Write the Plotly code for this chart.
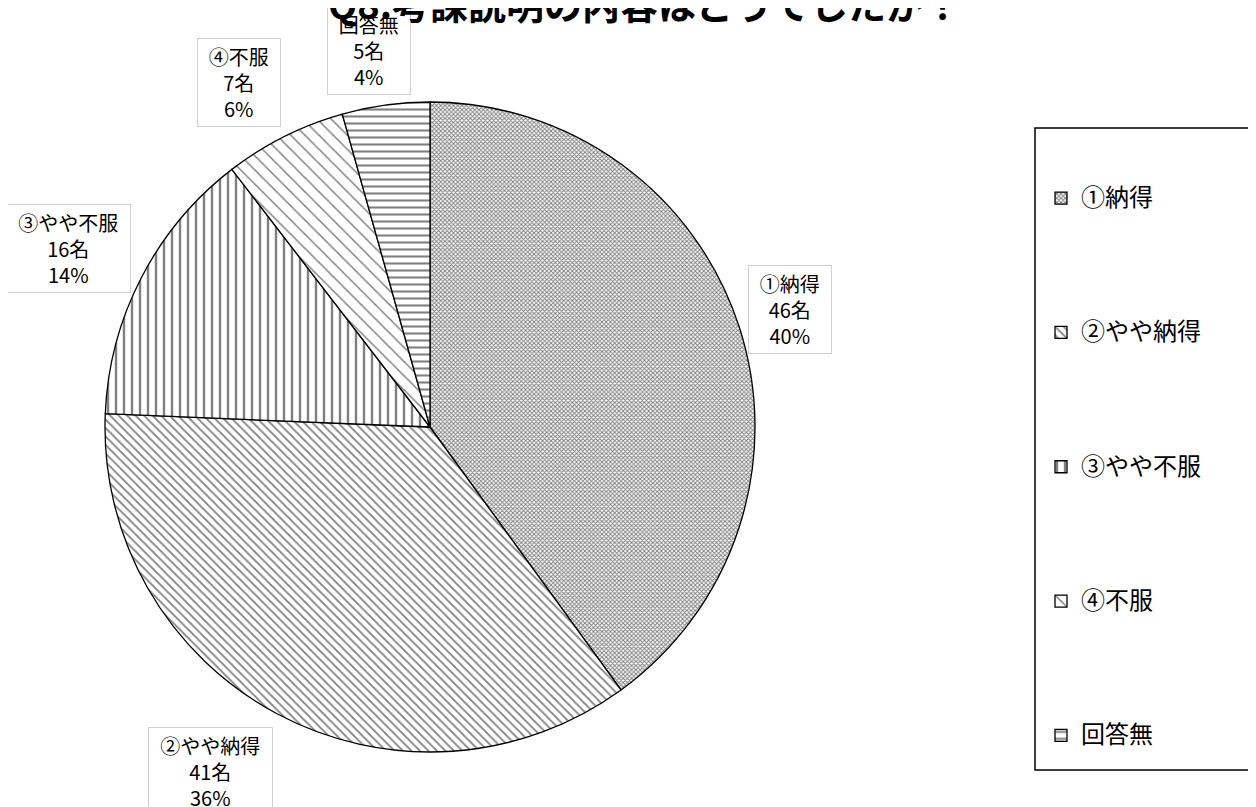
import plotly.graph_objects as go

categories = ["①納得", "②やや納得", "③やや不服", "④不服", "回答無"]
counts = [46, 41, 16, 7, 5]
title_text = "Q8.考課説明の内容はどうでしたか？"

# styles
pattern_shapes = ["x", "\\", "|", "\\", "-"]
pattern_sizes = [3, 6, 8, 10, 7]
pattern_solidity = [0.55, 0.3, 0.3, 0.15, 0.3]
OFF = 8  # page body margin offset
label_pos = [(790, 310), (210, 771), (68, 248), (239, 83), (369, 51)]  # page-pixel centres of label boxes

W, H = 1256, 807
total = sum(counts)
font = "Noto Sans CJK JP"


def px_x(p):
    return (p - OFF) / W


def px_y(p):
    return 1 - (p - OFF) / H


# pad legend entries vertically
legend_labels = ["<br><br><span style='font-size:24px'>" + c + "</span><br><br>" for c in categories]

fig = go.Figure(go.Pie(
    labels=legend_labels,
    values=counts,
    customdata=categories,
    sort=False,
    direction="clockwise",
    rotation=0,
    textinfo="none",
    hovertemplate="%{customdata}: %{value}名<extra></extra>",
    marker=dict(
        colors=["white"] * 5,
        line=dict(color="black", width=1.3),
        pattern=dict(shape=pattern_shapes, fgcolor="#808080", bgcolor="white",
                     size=pattern_sizes, solidity=pattern_solidity),
    ),
    domain=dict(x=[px_x(105), px_x(755)], y=[px_y(752), px_y(102)]),
))

for c, v, (px, py) in zip(categories, counts, label_pos):
    fig.add_annotation(
        x=px_x(px), y=px_y(py), xref="paper", yref="paper",
        xanchor="center", yanchor="middle",
        text=f"{c}<br>{v}名<br>{round(v / total * 100)}%",
        showarrow=False, align="center",
        width=len(c) * 20.5 + 14,
        font=dict(size=20, color="black", family=font),
        bordercolor="#d0d0d0", borderwidth=1, borderpad=3, bgcolor="white",
    )

# chart title (clipped at the top edge as in the reference)
fig.add_annotation(
    x=px_x(645), y=1, xref="paper", yref="paper", xanchor="center", yanchor="middle", yshift=6,
    text="<b>" + title_text + "</b>", showarrow=False,
    font=dict(size=38, color="black", family=font),
)

# legend frame
fig.add_shape(type="rect", xref="paper", yref="paper",
              x0=px_x(1035), x1=px_x(1275), y0=px_y(770), y1=px_y(128),
              line=dict(color="black", width=1.5), fillcolor="rgba(0,0,0,0)", layer="below")

fig.update_layout(
    width=W, height=H,
    margin=dict(l=0, r=0, t=0, b=0, autoexpand=False),
    paper_bgcolor="white",
    font=dict(family=font, color="black"),
    showlegend=True,
    legend=dict(x=1033 / W, xanchor="left", y=1 - 118 / H, yanchor="top",
                borderwidth=0, bgcolor="rgba(0,0,0,0)",
                font=dict(size=20.2, color="black", family=font),
                valign="middle", itemwidth=30),
)

fig.write_html("out.html")
